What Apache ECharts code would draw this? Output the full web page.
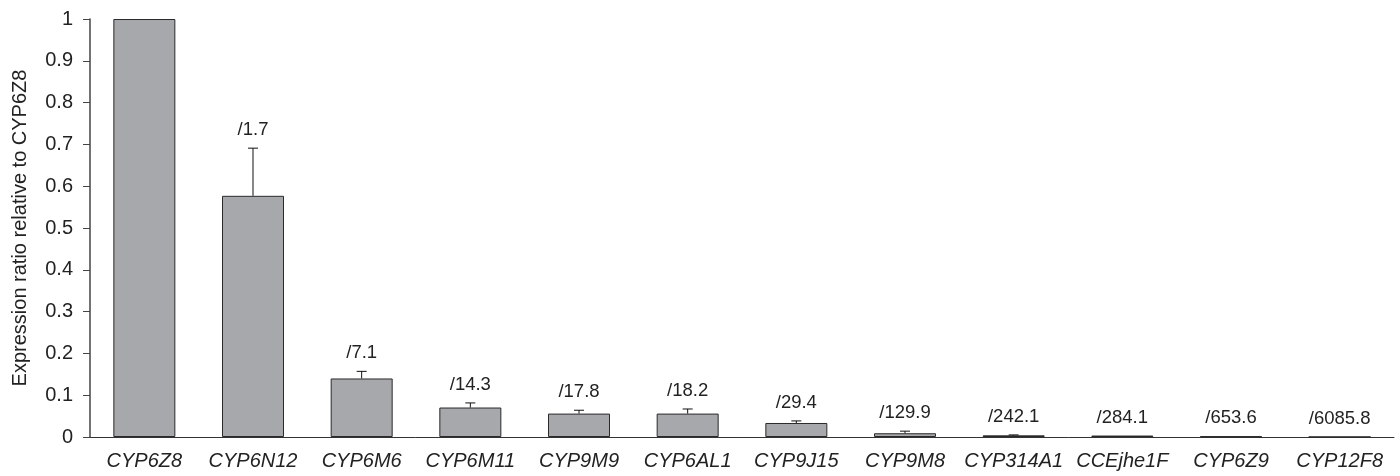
<!DOCTYPE html>
<html>
<head>
<meta charset="utf-8">
<script src="https://cdn.jsdelivr.net/npm/echarts@6/dist/echarts.min.js"></script>
<style>
  html, body { margin: 0; padding: 0; background: #fff; }
  #chart { width: 1400px; height: 476px; }
</style>
</head>
<body>
<div id="chart"></div>
<script>
// genes
var genes = ['CYP6Z8', 'CYP6N12', 'CYP6M6', 'CYP6M11', 'CYP9M9', 'CYP6AL1',
  'CYP9J15', 'CYP9M8', 'CYP314A1', 'CCEjhe1F', 'CYP6Z9', 'CYP12F8'];
// expression ratio relative to CYP6Z8
var ratios = [1, 0.577, 0.140, 0.0705, 0.056, 0.056, 0.0335, 0.009, 0.004, 0.0035, 0.0015, 0.0002];
// upper error (sd)
var errors = [0, 0.114, 0.017, 0.011, 0.008, 0.011, 0.005, 0.005, 0.001, 0, 0, 0];
// fold labels above bars
var folds = ['', '/1.7', '/7.1', '/14.3', '/17.8', '/18.2', '/29.4', '/129.9', '/242.1', '/284.1', '/653.6', '/6085.8'];

var chart = echarts.init(document.getElementById('chart'));
var font = 'Liberation Sans, Arial, sans-serif';

var errData = genes.map(function (g, i) { return [i, ratios[i], errors[i]]; });

chart.setOption({
  animation: false,
  backgroundColor: '#fff',
  grid: { left: 90, right: 6, top: 19, bottom: 39, containLabel: false },
  xAxis: {
    type: 'category',
    data: genes,
    axisLine: { lineStyle: { color: '#333', width: 1 } },
    axisTick: { show: false },
    axisLabel: { color: '#222', fontSize: 20, fontStyle: 'italic', fontFamily: font, margin: 14, interval: 0 }
  },
  yAxis: {
    type: 'value',
    min: 0, max: 1, interval: 0.1,
    name: 'Expression ratio relative to CYP6Z8',
    nameLocation: 'middle',
    nameGap: 60,
    nameTextStyle: { color: '#222', fontSize: 20, fontFamily: font },
    splitLine: { show: false },
    axisLine: { show: true, lineStyle: { color: '#444', width: 1.5 } },
    axisTick: { show: true, length: 7, lineStyle: { color: '#444' } },
    axisLabel: {
      color: '#222', fontSize: 20, fontFamily: font, margin: 17,
      formatter: function (v) { return String(+v.toFixed(1)); }
    }
  },
  series: [
    {
      type: 'bar',
      data: ratios,
      barWidth: 62,
      itemStyle: { color: '#a7a8ac', borderColor: '#2a2a2a', borderWidth: 1 }
    },
    {
      type: 'custom',
      data: errData,
      z: 5,
      renderItem: function (params, api) {
        var i = api.value(0);
        var base = api.coord([i, api.value(1)]);
        var top = api.coord([i, api.value(1) + api.value(2)]);
        var children = [];
        if (api.value(2) > 0) {
          children.push({ type: 'line', shape: { x1: base[0], y1: base[1], x2: top[0], y2: top[1] },
            style: { stroke: '#111', lineWidth: 1 } });
          children.push({ type: 'line', shape: { x1: top[0] - 5, y1: top[1], x2: top[0] + 5, y2: top[1] },
            style: { stroke: '#111', lineWidth: 1 } });
        }
        var txt = folds[i];
        if (txt) {
          children.push({ type: 'text', x: top[0], y: Math.min(top[1] - 18, 424),
            style: { text: txt, fill: '#222', font: '18.5px ' + font, align: 'center', verticalAlign: 'middle' } });
        }
        return { type: 'group', children: children };
      }
    }
  ]
});
</script>
</body>
</html>
